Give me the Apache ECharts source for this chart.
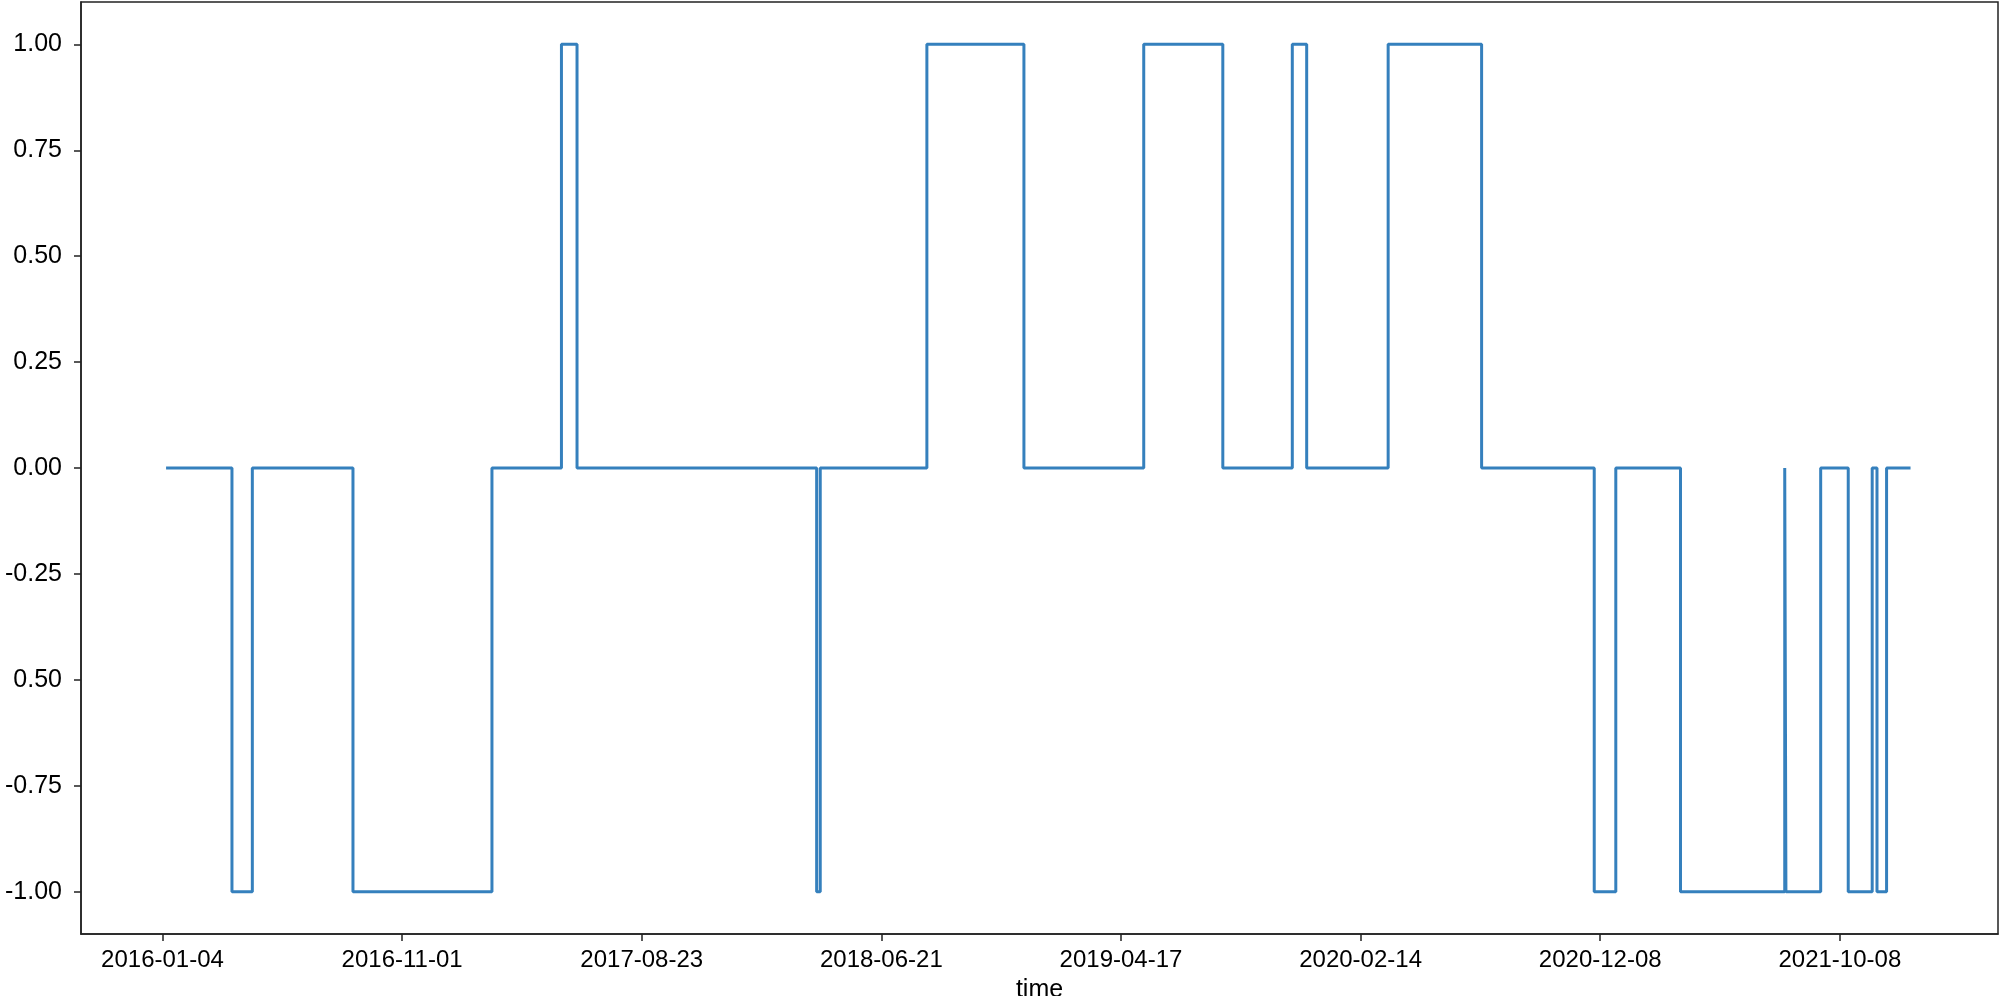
<!DOCTYPE html>
<html>
<head>
<meta charset="utf-8">
<title>signal</title>
<script src="https://cdn.jsdelivr.net/npm/echarts@6.0.0/dist/echarts.min.js"></script>
<style>
    html, body { margin: 0; padding: 0; background: #fff; }
    #signalChart { width: 2000px; height: 996px; }
</style>
</head>
<body>
<div id="signalChart"></div>
<script>
// trading-day index where the position changes, and the level it changes to
var changeIndex = [3, 58, 75, 159, 275, 333, 346, 546, 549, 638, 719, 819, 885, 943, 955, 1023, 1101, 1195, 1213, 1267, 1354, 1355, 1384, 1407, 1427, 1431, 1439, 1459];
var levels      = [0, -1, 0, -1, 0, 1, 0, -1, 0, 1, 0, 1, 0, 1, 0, 1, 0, -1, 0, -1, 0, -1, 0, -1, 0, -1, 0, 0];

// x tick labels, one every 200 trading days
var xTickIndex = [0, 200, 400, 600, 800, 1000, 1200, 1400];
var xTickLabels = ['2016-01-04', '2016-11-01', '2017-08-23', '2018-06-21', '2019-04-17', '2020-02-14', '2020-12-08', '2021-10-08'];

var yTickValues = [-1, -0.75, -0.5, -0.25, 0, 0.25, 0.5, 0.75, 1];
var yTickLabels = ['-1.00', '-0.75', '0.50', '-0.25', '0.00', '0.25', '0.50', '0.75', '1.00'];

function initSignalChart() {
    var data = [];
    for (var i = 0; i < changeIndex.length; i++) {
        data.push([changeIndex[i], levels[i]]);
    }
    var dom = document.getElementById("signalChart");
    var myChart = echarts.init(dom, null, {renderer: 'canvas'});
    var font = '"Liberation Sans", Arial, sans-serif';
    var option = {
        animation: false,
        grid: {
            left: 81,
            right: 2,
            top: 2,
            bottom: 62,
            containLabel: false,
            outerBoundsMode: 'none',
            show: true,
            borderColor: '#222',
            borderWidth: 1.5
        },
        xAxis: {
            type: 'value',
            min: -68,
            max: 1532,
            name: 'time',
            nameLocation: 'middle',
            nameGap: 44,
            nameTextStyle: {color: '#000', fontSize: 25, fontFamily: font},
            axisLine: {show: true, onZero: false, lineStyle: {color: '#222', width: 1.5}},
            axisTick: {show: true, length: 7, customValues: xTickIndex, lineStyle: {color: '#222', width: 1.5}},
            axisLabel: {
                customValues: xTickIndex,
                margin: 14,
                color: '#000',
                fontSize: 24,
                fontFamily: font,
                formatter: function (v) {
                    var k = xTickIndex.indexOf(v);
                    return k >= 0 ? xTickLabels[k] : '';
                }
            },
            splitLine: {show: false}
        },
        yAxis: {
            type: 'value',
            min: -1.1,
            max: 1.1,
            axisLine: {show: true, onZero: false, lineStyle: {color: '#222', width: 1.5}},
            axisTick: {show: true, length: 7, customValues: yTickValues, lineStyle: {color: '#222', width: 1.5}},
            axisLabel: {
                customValues: yTickValues,
                margin: 19,
                color: '#000',
                fontSize: 25,
                fontFamily: font,
                formatter: function (v) {
                    for (var k = 0; k < yTickValues.length; k++) {
                        if (Math.abs(yTickValues[k] - v) < 1e-9) return yTickLabels[k];
                    }
                    return '';
                }
            },
            splitLine: {show: false}
        },
        series: [{
            type: 'line',
            step: 'end',
            data: data,
            showSymbol: false,
            lineStyle: {color: '#3580bd', width: 3},
            itemStyle: {color: '#3580bd'}
        }]
    };
    if (option && typeof option === "object") {
        myChart.setOption(option, true);
    }
}

initSignalChart();
</script>
</body>
</html>
